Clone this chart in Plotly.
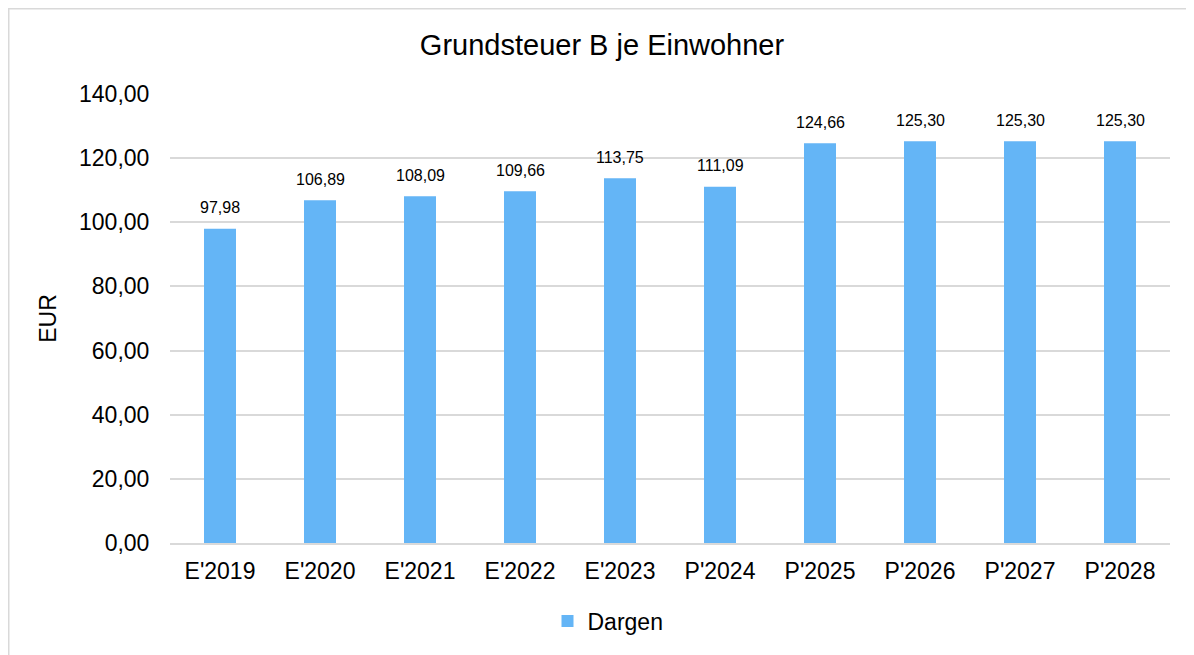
import plotly.graph_objects as go

categories = ["E'2019", "E'2020", "E'2021", "E'2022", "E'2023", "P'2024", "P'2025", "P'2026", "P'2027", "P'2028"]
values = [97.98, 106.89, 108.09, 109.66, 113.75, 111.09, 124.66, 125.30, 125.30, 125.30]
series_name = "Dargen"
title_text = "Grundsteuer B je Einwohner"
y_title = "EUR"

FONT = "Liberation Sans, Arial, sans-serif"
BAR = "#64B5F6"
GRID = "#D9D9D9"

fig = go.Figure()
fig.add_trace(go.Bar(
    x=categories, y=values, name=series_name,
    marker=dict(color=BAR, line=dict(width=0)),
    showlegend=True,
))

for c, v in zip(categories, values):
    fig.add_annotation(
        x=c, y=v, text=f"{v:.2f}".replace(".", ","),
        showarrow=False, yanchor="middle", yshift=21,
        font=dict(family=FONT, size=16, color="#000000"),
    )

# page is rendered with an 8px body offset
W, H = 1186, 647
L, R, T, B = 162, 24, 86, 112
pw, ph = W - L - R, H - T - B

def px(xp):
    return (xp - L) / pw

def py(yp):
    return (H - B - yp) / ph

# outer chart frame (only left and top edges visible in the crop)
fig.add_shape(type="line", xref="paper", yref="paper",
              x0=px(0.75), x1=px(0.75), y0=py(H), y1=py(0.75),
              line=dict(color=GRID, width=1.5), layer="below")
fig.add_shape(type="line", xref="paper", yref="paper",
              x0=px(0), x1=px(W), y0=py(0.75), y1=py(0.75),
              line=dict(color=GRID, width=1.5), layer="below")

fig.update_layout(
    width=W, height=H,
    margin=dict(l=L, r=R, t=T, b=B, autoexpand=False),
    paper_bgcolor="white", plot_bgcolor="white",
    separators=",.",
    bargap=0.68,
    font=dict(family=FONT, color="#000000"),
    title=dict(text=title_text, x=594 / W, xref="container", xanchor="center",
               y=1 - 37 / H, yref="container", yanchor="middle",
               font=dict(family=FONT, size=29, color="#000000")),
    xaxis=dict(
        showgrid=False, showline=True, linecolor=GRID, linewidth=1.5,
        ticks="outside", ticklen=7, tickcolor="rgba(0,0,0,0)",
        tickfont=dict(family=FONT, size=23, color="#000000"),
    ),
    yaxis=dict(
        range=[0, 140], dtick=20, tickformat=".2f",
        showgrid=True, gridcolor=GRID, gridwidth=1.5,
        zeroline=False, showline=False,
        ticks="outside", ticklen=15, tickcolor="rgba(0,0,0,0)",
        tickfont=dict(family=FONT, size=23, color="#000000"),
        title=dict(text=y_title, standoff=15, font=dict(family=FONT, size=23, color="#000000")),
    ),
    legend=dict(orientation="h", x=px(600), xanchor="center", y=py(613), yanchor="middle",
                font=dict(family=FONT, size=23, color="#000000"),
                itemwidth=30),
)

fig.write_html("out.html")
